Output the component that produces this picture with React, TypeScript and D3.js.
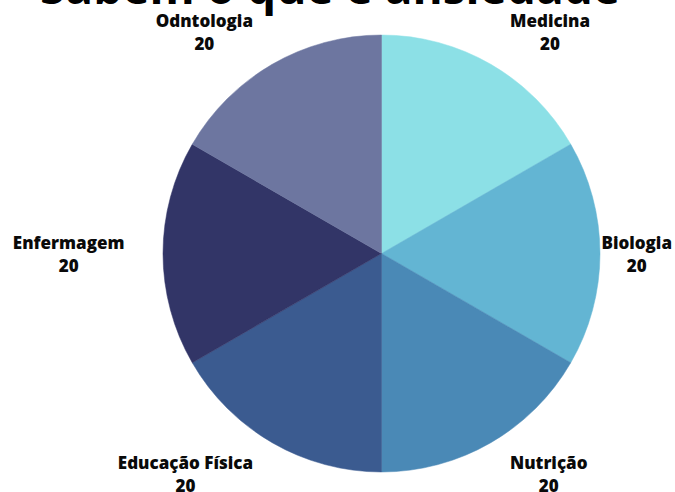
import React, { useEffect, useRef } from "react";
import * as d3 from "d3";

const W = 675;
const H = 492;

const titleText = "Sabem o que é ansiedade";
const categories = ["Medicina", "Biologia", "Nutrição", "Educação Física", "Enfermagem", "Odntologia"];
const values = [20, 20, 20, 20, 20, 20];
const colors = ["#8ce0e6", "#63b5d3", "#4a89b6", "#3b5b90", "#323567", "#6d76a0"];

export default function App() {
  const ref = useRef<SVGSVGElement>(null);

  useEffect(() => {
    const svg = d3.select(ref.current);
    svg.selectAll("*").remove();

    const cx = 381.5;
    const cy = 253.5;
    const r = 218.5;
    const labelRx = 257;
    const labelRy = 255;

    const data = categories.map((c, i) => ({ name: c, value: values[i], color: colors[i] }));
    const pie = d3.pie<any>().value((d) => d.value).sort(null);
    const arcs = pie(data);
    const arc = d3.arc<any>().innerRadius(0).outerRadius(r);

    const g = svg.append("g").attr("transform", `translate(${cx},${cy})`);
    g.selectAll("path")
      .data(arcs)
      .enter()
      .append("path")
      .attr("d", arc as any)
      .attr("fill", (d: any) => d.data.color)
      .attr("stroke", (d: any) => d.data.color)
      .attr("stroke-width", 0.5);

    svg
      .append("text")
      .attr("x", 330)
      .attr("y", 3.5)
      .attr("text-anchor", "middle")
      .attr("font-family", "'Open Sans', sans-serif")
      .attr("font-weight", 700)
      .attr("font-size", 48)
      .attr("textLength", 580)
      .attr("lengthAdjust", "spacingAndGlyphs")
      .attr("fill", "#000")
      .text(titleText);

    arcs.forEach((a: any) => {
      const mid = (a.startAngle + a.endAngle) / 2;
      const sx = Math.sin(mid);
      const ax = cx + sx * labelRx;
      const ay = cy - Math.cos(mid) * labelRy + (Math.abs(sx) > 0.99 ? 1 : 0);
      const lg = svg.append("g");
      const t1 = lg
        .append("text")
        .attr("text-anchor", "middle")
        .attr("font-family", "'Open Sans', sans-serif")
        .attr("font-weight", 800)
        .attr("font-size", 17)
        .attr("fill", "#0a0a0a")
        .attr("y", ay - 11.5)
        .attr("dy", "0.35em")
        .text(a.data.name);
      const t2 = lg
        .append("text")
        .attr("text-anchor", "middle")
        .attr("font-family", "'Open Sans', sans-serif")
        .attr("font-weight", 800)
        .attr("font-size", 17)
        .attr("fill", "#0a0a0a")
        .attr("y", ay + 11.5)
        .attr("dy", "0.35em")
        .text(String(a.data.value));
      const w = (t1.node() as SVGTextElement).getComputedTextLength();
      let x = ax + (Math.abs(sx) < 1e-6 ? 0 : Math.sign(sx)) * (w / 2);
      x = Math.max(w / 2 + 10, Math.min(W - w / 2 - 3, x));
      t1.attr("x", x);
      t2.attr("x", x);
    });
  }, []);

  return (
    <svg
      ref={ref}
      width={W}
      height={H}
      style={{ position: "absolute", left: 0, top: 0, background: "#fff" }}
    />
  );
}
